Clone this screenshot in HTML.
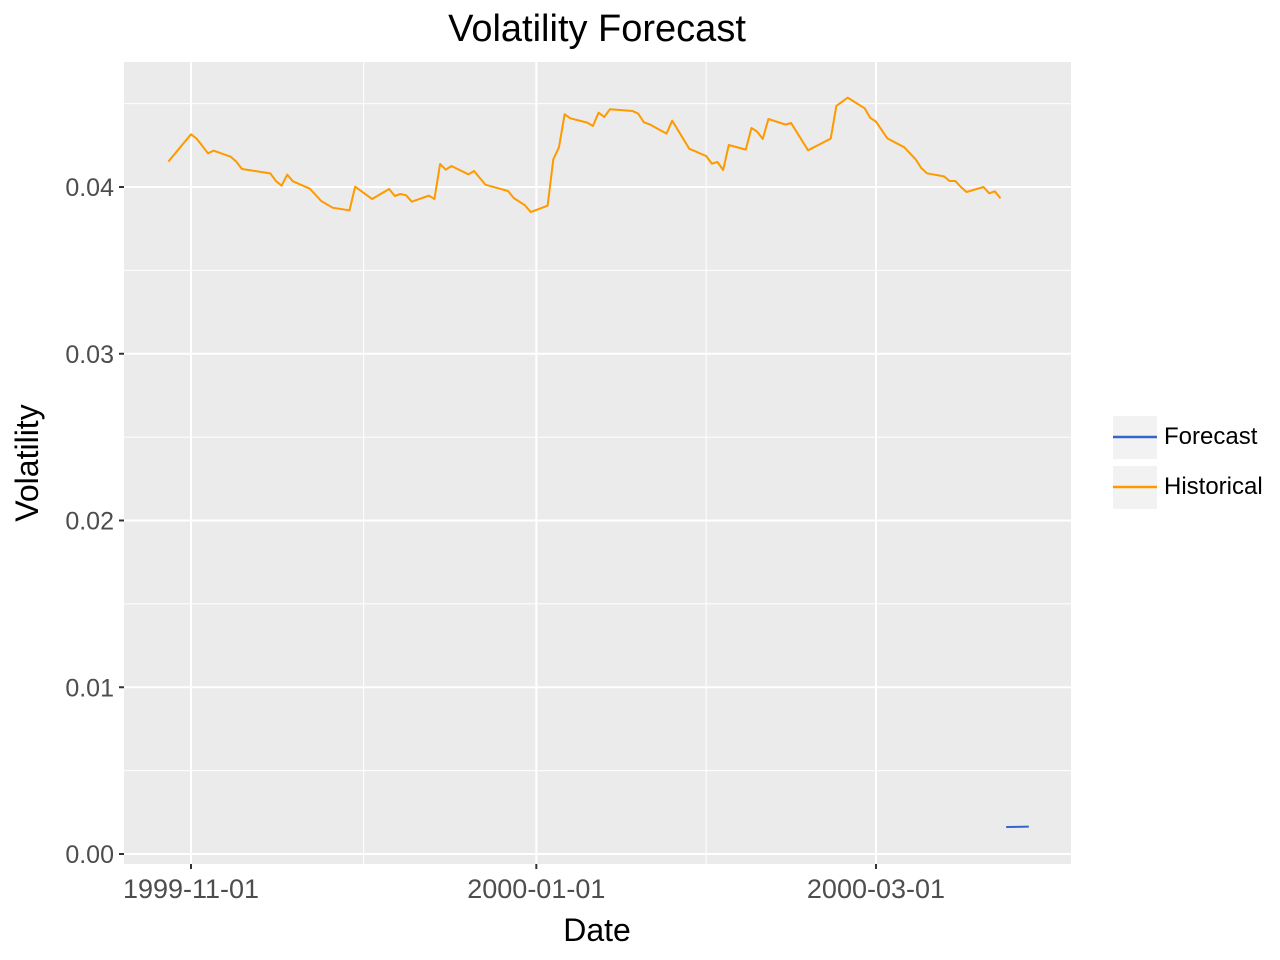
<!DOCTYPE html>
<html><head><meta charset="utf-8"><title>Volatility Forecast</title>
<style>html,body{margin:0;padding:0;background:#fff}svg{display:block;font-family:"Liberation Sans",Arial,sans-serif}</style>
</head><body>
<svg id="chart" width="1280" height="960" xmlns="http://www.w3.org/2000/svg">
<rect x="0" y="0" width="1280" height="960" fill="#fff"/>
<text x="597" y="41" text-anchor="middle" font-size="38" fill="#000">Volatility Forecast</text>
<rect x="124" y="62" width="947" height="802" fill="#ebebeb"/>
<g id="grid"></g>
<g id="series"></g>
<g id="axes"></g>
<text x="597" y="941" text-anchor="middle" font-size="32" fill="#000">Date</text>
<text transform="translate(38,463) rotate(-90)" text-anchor="middle" font-size="32" fill="#000">Volatility</text>
<g>
  <rect x="1113" y="416" width="44" height="43" fill="#f2f2f2"/>
  <line x1="1113" y1="437" x2="1157" y2="437" stroke="#3366cc" stroke-width="2.5"/>
  <text x="1164" y="444" font-size="24" fill="#000">Forecast</text>
  <rect x="1113" y="466" width="44" height="43" fill="#f2f2f2"/>
  <line x1="1113" y1="487" x2="1157" y2="487" stroke="#ff9900" stroke-width="2.5"/>
  <text x="1164" y="494" font-size="24" fill="#000">Historical</text>
</g>
</svg>
<script>
// Days since 1999-11-01
const histDays = [-4,0,1,3,4,7,8,9,14,15,16,17,18,21,23,25,28,29,32,35,36,37,38,39,42,43,44,45,46,49,50,52,56,57,59,60,63,64,65,66,67,70,71,72,73,74,78,79,80,81,84,85,88,91,92,93,94,95,98,99,100,101,102,105,106,109,113,114,116,119,120,121,123,126,128,129,130,133,134,135,136,137,140,141,142,143];
const histVals = [0.04152,0.04316,0.04290,0.04202,0.04218,0.04182,0.04152,0.04108,0.04082,0.04036,0.04008,0.04074,0.04034,0.03990,0.03916,0.03876,0.03860,0.04002,0.03928,0.03988,0.03946,0.03958,0.03950,0.03912,0.03948,0.03928,0.04138,0.04104,0.04126,0.04076,0.04096,0.04014,0.03976,0.03934,0.03890,0.03850,0.03888,0.04166,0.04238,0.04436,0.04412,0.04386,0.04366,0.04446,0.04420,0.04466,0.04456,0.04440,0.04388,0.04376,0.04320,0.04398,0.04230,0.04186,0.04140,0.04150,0.04102,0.04252,0.04224,0.04354,0.04332,0.04288,0.04408,0.04374,0.04384,0.04220,0.04290,0.04486,0.04536,0.04472,0.04414,0.04392,0.04292,0.04238,0.04166,0.04114,0.04082,0.04064,0.04036,0.04036,0.04000,0.03970,0.04000,0.03962,0.03974,0.03932];
const fcDays = [144,148];
const fcVals = [0.00162,0.00164];
const xTickDays = [0,61,121];
const xTickLabels = ["1999-11-01","2000-01-01","2000-03-01"];
const yTicks = [0,0.01,0.02,0.03,0.04];
const yTickLabels = ["0.00","0.01","0.02","0.03","0.04"];

const NS="http://www.w3.org/2000/svg";
const L=124,R=1071,T=62,B=864;
function xs(d){return 191+d*5.661;}
function ys(v){return 854-v*16675;}
function mk(tag,attrs,parent){const e=document.createElementNS(NS,tag);for(const k in attrs)e.setAttribute(k,attrs[k]);parent.appendChild(e);return e;}
const grid=document.getElementById('grid'),series=document.getElementById('series'),axes=document.getElementById('axes');
for(let i=0;i<yTicks.length;i++){const v=yTicks[i]+0.005;
 const l=mk('line',{x1:L,x2:R,y1:ys(v),y2:ys(v),stroke:'#fff','stroke-width':1},grid);
 
 }
for(let i=0;i<xTickDays.length-1;i++){const d=(xTickDays[i]+xTickDays[i+1])/2;
 const l=mk('line',{x1:xs(d),x2:xs(d),y1:T,y2:B,stroke:'#fff','stroke-width':1},grid);
 
 }
yTicks.forEach((v,i)=>{
 const l=mk('line',{x1:L,x2:R,y1:ys(v),y2:ys(v),stroke:'#fff','stroke-width':2},grid);
 
 
 const t=mk('line',{x1:L-5,x2:L,y1:ys(v),y2:ys(v),stroke:'#333','stroke-width':2},axes);
 
 
 const tx=mk('text',{x:L-10,y:ys(v)+9,'text-anchor':'end','font-size':25,fill:'#4d4d4d'},axes);
 tx.textContent=yTickLabels[i];
 
 
});
xTickDays.forEach((d,i)=>{
 const l=mk('line',{x1:xs(d),x2:xs(d),y1:T,y2:B,stroke:'#fff','stroke-width':2},grid);
 
 
 const t=mk('line',{x1:xs(d),x2:xs(d),y1:B,y2:B+5,stroke:'#333','stroke-width':2},axes);
 
 
 const tx=mk('text',{x:xs(d),y:B+34,'text-anchor':'middle','font-size':27,fill:'#4d4d4d'},axes);
 tx.textContent=xTickLabels[i];
 
 
});
const hp=mk('polyline',{points:histDays.map((d,i)=>xs(d)+','+ys(histVals[i])).join(' '),fill:'none',stroke:'#ff9900','stroke-width':2,'stroke-linejoin':'round'},series);


const fp=mk('polyline',{points:fcDays.map((d,i)=>xs(d)+','+ys(fcVals[i])).join(' '),fill:'none',stroke:'#3366cc','stroke-width':2},series);


</script>
</body></html>
